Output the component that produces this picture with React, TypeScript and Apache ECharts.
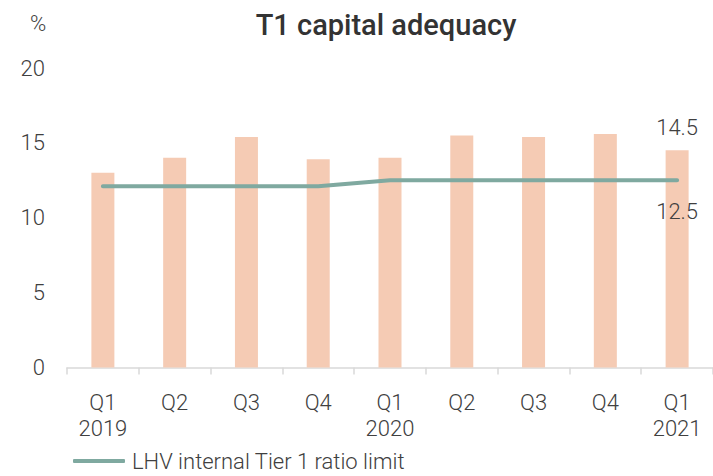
import React, { useEffect, useRef } from "react";
import * as echarts from "echarts";

const categories = ["Q1\n2019", "Q2", "Q3", "Q4", "Q1\n2020", "Q2", "Q3", "Q4", "Q1\n2021"];
const t1Ratio = [13.0, 14.0, 15.4, 13.9, 14.0, 15.5, 15.4, 15.6, 14.5];
const internalLimit = [12.1, 12.1, 12.1, 12.1, 12.5, 12.5, 12.5, 12.5, 12.5];
const yTicks = { min: 0, max: 20, interval: 5 };

const FONT = "Roboto";
const TEXT = "#404040";
const FS = 22;

export default function App() {
  const ref = useRef<HTMLDivElement>(null);
  useEffect(() => {
    if (!ref.current) return;
    const chart = echarts.init(ref.current, null, { renderer: "svg" });
    const last = t1Ratio.length - 1;
    const lbl = { fontSize: FS, color: TEXT, fontFamily: FONT, fontWeight: 300 };
    chart.setOption({
      animation: false,
      textStyle: { fontFamily: FONT },
      title: {
        text: "T1 capital adequacy",
        left: 381,
        textAlign: "center",
        top: 5,
        textStyle: { fontSize: 29, fontWeight: 500, color: "#333333", fontFamily: FONT },
      },
      graphic: [
        {
          type: "text",
          left: 30,
          top: 12,
          style: { text: "%", fontSize: FS, fill: TEXT, fontFamily: FONT, fontWeight: 300 },
        },
      ],
      legend: {
        data: ["LHV internal Tier 1 ratio limit"],
        left: 73,
        top: 450,
        padding: 0,
        itemWidth: 52,
        itemHeight: 4,
        icon: "roundRect",
        textStyle: { ...lbl, padding: [0, 0, 0, 2] },
      },
      grid: { left: 67, top: 68, bottom: 108.5, right: -4, containLabel: false },
      xAxis: {
        type: "category",
        data: categories,
        axisLine: { lineStyle: { color: "#d9d9d9", width: 1.5 } },
        axisTick: { show: true, length: 7, lineStyle: { color: "#d9d9d9", width: 1.5 } },
        axisLabel: { ...lbl, lineHeight: 26, margin: 22, interval: 0 },
      },
      yAxis: {
        type: "value",
        min: yTicks.min,
        max: yTicks.max,
        interval: yTicks.interval,
        axisLine: { show: false },
        axisTick: { show: false },
        splitLine: { show: false },
        axisLabel: { ...lbl, margin: 22 },
      },
      series: [
        {
          name: "T1 capital adequacy",
          type: "bar",
          data: t1Ratio.map((v, i) =>
            i === last
              ? { value: v, label: { show: true, position: "top", distance: 12, ...lbl } }
              : v
          ),
          barWidth: 23,
          itemStyle: { color: "#f5cbb4" },
          z: 1,
        },
        {
          name: "LHV internal Tier 1 ratio limit",
          type: "line",
          data: internalLimit.map((v, i) =>
            i === last
              ? { value: v, label: { show: true, position: "bottom", distance: 20, ...lbl } }
              : v
          ),
          symbol: "circle",
          symbolSize: 0,
          showSymbol: true,
          lineStyle: { color: "#7fa9a0", width: 4, cap: "round" },
          itemStyle: { color: "#7fa9a0" },
          z: 3,
        },
      ],
    });
    return () => chart.dispose();
  }, []);
  return (
    <div
      ref={ref}
      style={{ position: "fixed", left: 0, top: 0, width: 713, height: 476, background: "#fff" }}
    />
  );
}
